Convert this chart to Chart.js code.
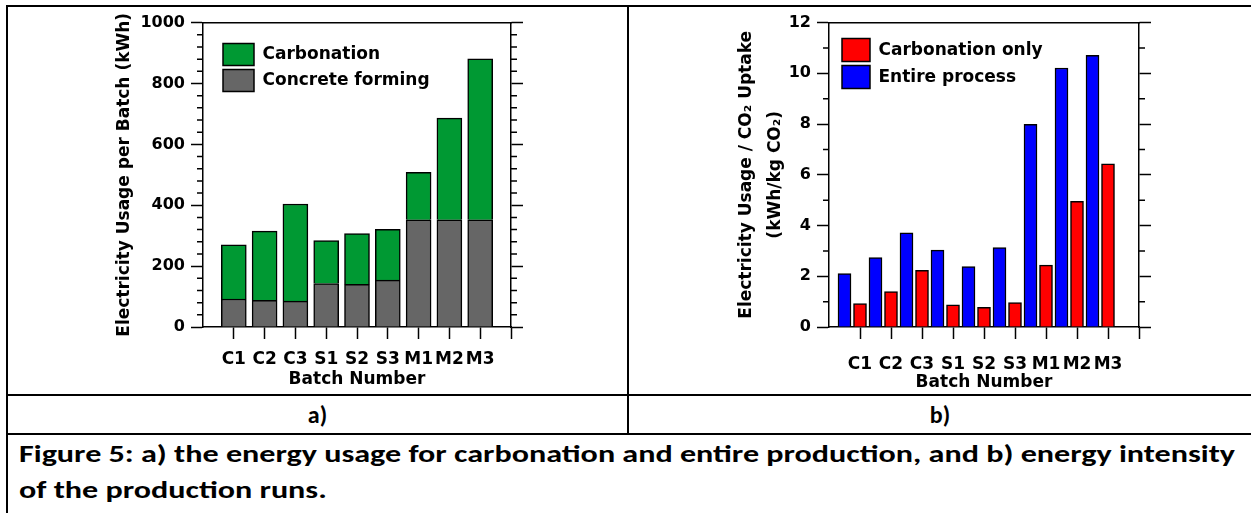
<!DOCTYPE html>
<html>
<head>
<meta charset="utf-8">
<script src="https://cdn.jsdelivr.net/npm/chart.js@4.4.1/dist/chart.umd.min.js"></script>
<style>
  body { margin: 0; background: #fff; width: 1251px; height: 513px; position: relative; overflow: hidden; }
  .ln { position: absolute; background: #000; }
  canvas { position: absolute; }
  .txt { position: absolute; font-family: Carlito, Calibri, Lato, sans-serif; font-weight: bold; font-size: 24px; color: #000; white-space: nowrap; }
</style>
</head>
<body>
<!-- table borders -->
<div class="ln" style="left:6px;top:5px;width:1245px;height:2px"></div>
<div class="ln" style="left:6px;top:5px;width:2px;height:508px"></div>
<div class="ln" style="left:627px;top:5px;width:2px;height:430px"></div>
<div class="ln" style="left:6px;top:394px;width:1245px;height:2px"></div>
<div class="ln" style="left:6px;top:433px;width:1245px;height:2px"></div>

<canvas id="chartA" width="619" height="387" style="left:8px;top:7px"></canvas>
<canvas id="chartB" width="619" height="387" style="left:630px;top:7px"></canvas>

<div class="txt" style="left:8px;top:396px;width:619px;line-height:37px;text-align:center">a)</div>
<div class="txt" style="left:629px;top:396px;width:622px;line-height:37px;text-align:center">b)</div>
<div class="txt" id="caption" style="left:19px;top:436px;line-height:36px">
  <span id="cap1">Figure 5: a) the energy usage for carbonation and entire production, and b) energy intensity</span><br>
  <span id="cap2">of the production runs.</span>
</div>

<script>
"use strict";

const batches = ["C1", "C2", "C3", "S1", "S2", "S3", "M1", "M2", "M3"];

// panel a (kWh per batch)
const concreteForming = [92, 88, 85, 143, 140, 154, 352, 352, 352];
const carbonation = [178, 227, 319, 141, 167, 167, 156, 334, 529];

// panel b (kWh/kg CO2)
const carbonationOnly = [0.92, 1.40, 2.23, 0.87, 0.78, 0.96, 2.44, 4.95, 6.43];
const entireProcess = [2.11, 2.74, 3.71, 3.03, 2.38, 3.13, 7.99, 10.21, 10.71];

Chart.defaults.font.family = "'DejaVu Sans', 'Liberation Sans', sans-serif";
Chart.defaults.font.size = 17;
Chart.defaults.font.weight = "bold";
Chart.defaults.color = "#000";

// short ticks between the labelled ones, both sides of the frame
const minorTicks = {
    id: "minorTicks",
    afterDraw(chart, args, opts) {
        if (!opts.step) return;
        const {ctx, chartArea} = chart;
        const y = chart.scales.y;
        ctx.save();
        ctx.strokeStyle = "#000";
        ctx.lineWidth = 1.5;
        ctx.beginPath();
        for (let v = y.min; v <= y.max; v += opts.step) {
            if (v % opts.major === 0) continue;
            const py = y.getPixelForValue(v);
            ctx.moveTo(chartArea.left - opts.len, py);
            ctx.lineTo(chartArea.left, py);
            ctx.moveTo(chartArea.right, py);
            ctx.lineTo(chartArea.right + opts.len, py);
        }
        ctx.stroke();
        ctx.restore();
    }
};

// legend sits inside the plot, top-left corner
const legendInside = {
    id: "legendInside",
    afterLayout(chart, args, opts) {
        const lg = chart.legend;
        const area = chart.chartArea;
        lg.left = area.left + opts.x;
        lg.top = area.top + opts.y;
        lg.bottom = area.bottom;
        lg.right = area.right;
    }
};

function frameScales(yMax, yStep, yTitle, titleLine, yWidth, tickPad, titlePad) {
    const tickCol = (c) => (c.tick && c.tick.value === 0 ? "transparent" : "#000");
    return {
        x: {
            type: "linear",
            min: 0, max: 10,
            offset: false,
            stacked: true,
            afterFit: (s) => { s.height = 67; },
            grid: { offset: false, drawOnChartArea: false, tickLength: 12, tickWidth: 1.5, tickColor: tickCol },
            border: { color: "#000", width: 1.5 },
            ticks: {
                stepSize: 1,
                autoSkip: false,
                maxRotation: 0,
                padding: tickPad,
                callback: (v) => batches[v - 1] || ""
            },
            title: { display: true, text: "Batch Number", padding: { top: 0, bottom: titlePad } }
        },
        x2: {
            type: "linear",
            position: "top",
            min: 0, max: 10,
            afterFit: (s) => { s.height = 0; },
            grid: { display: false },
            ticks: { display: false },
            border: { color: "#000", width: 1.5 }
        },
        y: {
            min: 0, max: yMax,
            stacked: true,
            afterFit: (s) => { s.width = yWidth; },
            grid: { drawOnChartArea: false, tickLength: 12, tickWidth: 1.5, tickColor: "#000" },
            border: { color: "#000", width: 1.5 },
            ticks: { stepSize: yStep, padding: 6, font: { size: 16 }, callback: (v) => String(v) },
            title: {
                display: true,
                text: yTitle,
                font: { size: 17, lineHeight: titleLine },
                padding: { top: 0, bottom: 0 }
            }
        },
        y2: {
            position: "right",
            min: 0, max: yMax,
            afterFit: (s) => { s.width = 12; },
            grid: { drawOnChartArea: false, tickLength: 12, tickWidth: 1.5, tickColor: "#000" },
            border: { color: "#000", width: 1.5 },
            ticks: { stepSize: yStep, display: false }
        }
    };
}

const chartA = new Chart(document.getElementById("chartA").getContext("2d"), {
    type: "bar",
    data: {
        datasets: [{
            label: "Concrete forming",
            backgroundColor: "#666666",
            borderColor: "#000",
            borderWidth: 1.5,
            barThickness: 25,
            data: concreteForming.map((v, i) => ({ x: i + 1, y: v }))
        }, {
            label: "Carbonation",
            backgroundColor: "#009933",
            borderColor: "#000",
            borderWidth: 1.5,
            barThickness: 25,
            data: carbonation.map((v, i) => ({ x: i + 1, y: v }))
        }]
    },
    options: {
        responsive: false,
        animation: false,
        events: [],
        layout: { padding: { left: 106, right: 104, top: 12, bottom: 0 } },
        scales: frameScales(1000, 200, "Electricity Usage per Batch (kWh)", 1.2, 89, 10, 4),
        plugins: {
            legend: {
                position: "chartArea",
                align: "start",
                reverse: true,
                labels: { boxWidth: 31, boxHeight: 22, padding: 4, color: "#000", font: { size: 17 } }
            },
            legendInside: { x: 16, y: 17 },
            minorTicks: { step: 40, major: 200, len: 6 },
            tooltip: { enabled: false }
        }
    },
    plugins: [minorTicks, legendInside]
});

const chartB = new Chart(document.getElementById("chartB").getContext("2d"), {
    type: "bar",
    data: {
        datasets: [{
            label: "Carbonation only",
            backgroundColor: "#ff0000",
            borderColor: "#000",
            borderWidth: 1.5,
            barThickness: 13,
            grouped: false,
            data: carbonationOnly.map((v, i) => ({ x: i + 1, y: v }))
        }, {
            label: "Entire process",
            backgroundColor: "#0000ff",
            borderColor: "#000",
            borderWidth: 1.5,
            barThickness: 13,
            grouped: false,
            data: entireProcess.map((v, i) => ({ x: i + 0.5, y: v }))
        }]
    },
    options: {
        responsive: false,
        animation: false,
        events: [],
        layout: { padding: { left: 102, right: 98, top: 12, bottom: 0 } },
        scales: (() => {
            const s = frameScales(12, 2, ["Electricity Usage / CO\u2082 Uptake", "(kWh/kg CO\u2082)"], 1.7, 97, 15, 1);
            s.x.stacked = false;
            s.y.stacked = false;
            return s;
        })(),
        plugins: {
            legend: {
                position: "chartArea",
                align: "start",
                labels: { boxWidth: 28, boxHeight: 23, padding: 4, color: "#000", font: { size: 17 } }
            },
            legendInside: { x: 9, y: 12 },
            minorTicks: { step: 1, major: 2, len: 6 },
            tooltip: { enabled: false }
        }
    },
    plugins: [minorTicks, legendInside]
});

// stretch caption line to the width it has in the figure
function fitCaption() {
    const c1 = document.getElementById("cap1");
    const w = c1.getBoundingClientRect().width;
    const k = 1216 / w;
    const cap = document.getElementById("caption");
    cap.style.transformOrigin = "0 0";
    cap.style.transform = "scaleX(" + k + ")";
}
if (document.fonts && document.fonts.ready) document.fonts.ready.then(fitCaption); else fitCaption();
</script>
</body>
</html>
